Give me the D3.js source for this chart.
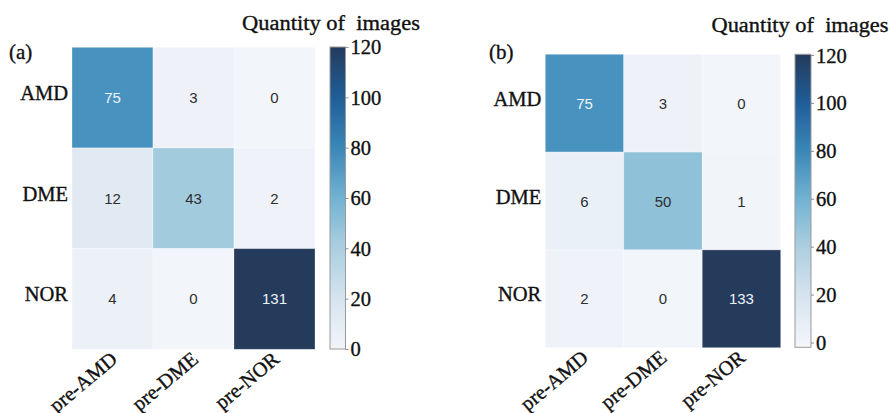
<!DOCTYPE html>
<html>
<head>
<meta charset="utf-8">
<script src="https://cdn.jsdelivr.net/npm/d3@7"></script>
<style>
  html, body { margin: 0; padding: 0; background: #ffffff; }
  svg { display: block; }
  .serif { font-family: 'Liberation Serif', 'Times New Roman', serif; fill: #111111; stroke: #111111; stroke-width: 0.35; }
</style>
</head>
<body>
<div id="chart"></div>
<script>
// Confusion matrices of the two classifiers (rows: true class, columns: predicted)
const rowLabels = ["AMD", "DME", "NOR"];
const colLabels = ["pre-AMD", "pre-DME", "pre-NOR"];
const matrixA = [
  [75, 3, 0],
  [12, 43, 2],
  [4, 0, 131]
];
const matrixB = [
  [75, 3, 0],
  [6, 50, 1],
  [2, 0, 133]
];
const colorbarTicks = [0, 20, 40, 60, 80, 100, 120];
const panelTags = ["(a)", "(b)"];
const colorbarTitle = "Quantity of\u00a0 images";

// Colour ramp (value stops -> colour), clipped at 120
const rampValues = [0, 20, 40, 60, 80, 100, 120];
const rampColors = ["#f2f5fa", "#d5e3ef", "#accfe0", "#72b2d2", "#3a87b8", "#1f5e98", "#243b5c"];

const W = 891, H = 413;
const sans = "'Liberation Sans', Arial, sans-serif";

const color = d3.scaleLinear()
  .domain(rampValues)
  .range(rampColors)
  .interpolate(d3.interpolateRgb)
  .clamp(true);

const svg = d3.select("#chart").append("svg")
  .attr("width", W).attr("height", H);

const defs = svg.append("defs");

const panels = [
  {
    data: matrixA, tag: panelTags[0],
    hx: [72, 315], hy: [47.3, 349.3],
    cbx: [330, 345.5], cby: [47, 349], cbDomain: [0, 120],
    tagPos: [9, 58.5], titlePos: [242, 30], titleW: 178,
    labelDx: 6
  },
  {
    data: matrixB, tag: panelTags[1],
    hx: [545.3, 780.7], hy: [54.3, 347.7],
    cbx: [795, 811], cby: [54.3, 347.3], cbDomain: [-2, 120.3],
    tagPos: [489, 58.5], titlePos: [711.5, 31.5], titleW: 177,
    labelDx: 5
  }
];

panels.forEach((p, pi) => {
  const g = svg.append("g");

  const x = d3.scaleBand().domain(colLabels).range(p.hx).paddingInner(0).paddingOuter(0);
  const y = d3.scaleBand().domain(rowLabels).range(p.hy).paddingInner(0).paddingOuter(0);

  const cells = [];
  p.data.forEach((row, i) => row.forEach((v, j) => cells.push({ r: rowLabels[i], c: colLabels[j], v })));

  // heatmap cells
  g.selectAll("rect.cell").data(cells).enter().append("rect")
    .attr("class", "cell")
    .attr("x", d => x(d.c))
    .attr("y", d => y(d.r))
    .attr("width", x.bandwidth())
    .attr("height", y.bandwidth())
    .attr("fill", d => color(d.v))
    .attr("stroke", "#ffffff")
    .attr("stroke-opacity", 0.35)
    .attr("stroke-width", 0.8);

  // annotations
  g.selectAll("text.val").data(cells).enter().append("text")
    .attr("class", "val")
    .attr("x", d => x(d.c) + x.bandwidth() / 2)
    .attr("y", d => y(d.r) + y.bandwidth() / 2)
    .attr("text-anchor", "middle")
    .attr("dominant-baseline", "central")
    .attr("font-family", sans)
    .attr("font-size", 15)
    .attr("fill", d => d.v >= 65 ? "#eef3f8" : "#2e2e2e")
    .text(d => d.v);

  // row labels
  g.selectAll("text.row").data(rowLabels).enter().append("text")
    .attr("class", "row serif")
    .attr("x", p.hx[0] - 4)
    .attr("y", d => y(d) + y.bandwidth() / 2 + 2.5)
    .attr("text-anchor", "end")
    .attr("font-size", 20.5)
    .text(d => d);

  // rotated column labels
  g.selectAll("text.col").data(colLabels).enter().append("text")
    .attr("class", "col serif")
    .attr("text-anchor", "end")
    .attr("transform", d => `translate(${x(d) + x.bandwidth() / 2 + p.labelDx},${p.hy[1] + 12}) rotate(-40)`)
    .attr("font-size", 20.5)
    .text(d => d);

  // colour bar
  const cbScale = d3.scaleLinear().domain(p.cbDomain).range([p.cby[1], p.cby[0]]);
  const gradId = "cbgrad" + pi;
  const grad = defs.append("linearGradient")
    .attr("id", gradId)
    .attr("x1", 0).attr("y1", 1).attr("x2", 0).attr("y2", 0);
  const nStops = 40;
  d3.range(nStops + 1).forEach(k => {
    const t = k / nStops;
    const v = p.cbDomain[0] + t * (p.cbDomain[1] - p.cbDomain[0]);
    grad.append("stop").attr("offset", t).attr("stop-color", color(v));
  });
  g.append("rect")
    .attr("x", p.cbx[0])
    .attr("y", p.cby[0])
    .attr("width", p.cbx[1] - p.cbx[0])
    .attr("height", p.cby[1] - p.cby[0])
    .attr("fill", `url(#${gradId})`)
    .attr("stroke", "#9a9a9a")
    .attr("stroke-width", 1);

  const axis = d3.axisRight(cbScale)
    .tickValues(colorbarTicks)
    .tickSize(3)
    .tickPadding(2)
    .tickFormat(d3.format("d"));
  const ag = g.append("g")
    .attr("transform", `translate(${p.cbx[1]},0)`)
    .call(axis)
    .attr("font-family", null)
    .attr("font-size", null);
  ag.select(".domain").remove();
  ag.selectAll(".tick line").attr("stroke", "#777777").attr("stroke-width", 0.8);
  ag.selectAll(".tick text")
    .attr("class", "serif")
    .attr("font-size", 20.5)
    .attr("fill", null)
    .attr("dy", "0.34em");

  // colour bar title
  g.append("text")
    .attr("class", "serif")
    .attr("x", p.titlePos[0])
    .attr("y", p.titlePos[1])
    .attr("font-size", 20.5)
    .attr("textLength", p.titleW)
    .attr("lengthAdjust", "spacingAndGlyphs")
    .text(colorbarTitle);

  // panel tag
  g.append("text")
    .attr("class", "serif")
    .attr("x", p.tagPos[0])
    .attr("y", p.tagPos[1])
    .attr("font-size", 21)
    .text(p.tag);
});
</script>
</body>
</html>
